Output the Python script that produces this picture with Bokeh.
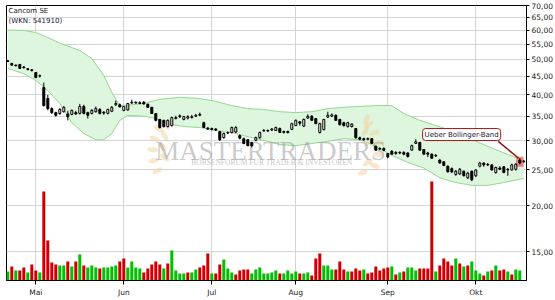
from bokeh.plotting import figure
from bokeh.models import FixedTicker, CustomJSTickFormatter, Range1d, Label, ColumnDataSource, LinearScale
from bokeh.core.properties import value
from bokeh.embed import file_html
from bokeh.resources import INLINE
import math

title = "Cancom SE"
subtitle = "(WKN: 541910)"
annotation = "Ueber Bollinger-Band"
signal_idx = 128

month_ticks = [7, 29, 51, 72, 95, 117]
month_labels = ["Mai", "Jun", "Jul", "Aug", "Sep", "Okt"]
price_ticks = [15, 20, 25, 30, 35, 40, 45, 50, 55, 60, 65, 70]

opens = [49.5, 48.7, 48.2, 48.4, 47.6, 47.1, 46.8, 46.0, 45.1, 41.9,
         39.1, 36.7, 35.8, 35.6, 36.0, 35.5, 35.4, 35.8, 35.6, 37.2,
         35.8, 35.6, 36.0, 36.5, 35.9, 35.6, 36.1, 37.6, 37.6, 36.3,
         36.4, 38.0, 38.0, 38.1, 38.2, 37.7, 37.0, 35.6, 34.3, 34.1,
         32.8, 33.0, 34.5, 34.9, 34.3, 34.6, 34.7, 35.0, 35.2, 33.6,
         32.5, 32.4, 32.3, 31.8, 30.6, 31.5, 31.6, 31.7, 31.0, 30.4,
         30.2, 29.7, 30.1, 30.6, 31.9, 32.0, 32.1, 32.0, 32.4, 31.8,
         31.8, 32.2, 33.0, 33.8, 32.9, 34.6, 35.0, 34.5, 31.6, 32.2,
         34.8, 35.0, 35.2, 34.3, 33.6, 32.8, 32.8, 32.4, 30.6, 30.4,
         30.3, 30.4, 29.0, 28.5, 28.6, 27.7, 28.1, 27.7, 27.9, 27.9,
         27.8, 28.3, 29.5, 29.7, 28.4, 27.8, 27.6, 27.3, 26.6, 26.3,
         25.6, 25.2, 24.3, 24.4, 24.8, 23.8, 24.8, 24.1, 25.6, 26.1,
         25.9, 25.8, 24.6, 25.3, 25.5, 25.1, 25.0, 25.1, 26.6, 26.3]
highs = [49.8, 48.9, 48.3, 48.5, 47.9, 47.3, 46.9, 46.2, 45.4, 43.2,
         40.0, 37.0, 36.0, 36.8, 37.3, 36.2, 36.5, 36.2, 37.8, 37.6,
         36.0, 36.6, 37.2, 36.8, 36.1, 36.7, 37.3, 38.6, 37.9, 37.3,
         38.0, 38.8, 38.4, 38.4, 38.5, 37.9, 37.1, 35.7, 34.4, 34.2,
         34.3, 34.9, 35.1, 35.4, 35.1, 35.2, 35.3, 35.5, 35.8, 33.8,
         32.7, 32.6, 32.5, 31.9, 31.6, 31.8, 32.8, 32.9, 31.2, 30.6,
         30.3, 29.8, 30.8, 31.8, 32.3, 32.2, 32.5, 32.8, 32.6, 32.0,
         32.0, 33.6, 34.3, 33.9, 34.5, 35.4, 35.2, 34.6, 33.6, 34.4,
         36.0, 35.6, 35.4, 34.4, 33.8, 33.8, 33.5, 32.5, 30.8, 30.6,
         30.6, 30.5, 29.1, 28.8, 28.8, 27.8, 28.3, 28.1, 28.1, 28.1,
         27.9, 29.3, 30.3, 29.8, 28.5, 28.0, 27.7, 27.6, 26.7, 26.4,
         25.7, 25.4, 25.0, 25.3, 24.9, 24.7, 24.9, 25.1, 26.3, 26.2,
         26.1, 25.9, 25.5, 25.6, 25.6, 25.3, 26.0, 26.1, 26.9, 26.6]
lows = [49.1, 48.0, 47.8, 47.1, 47.2, 46.6, 46.3, 44.4, 44.6, 37.2,
        36.3, 35.5, 34.9, 35.3, 35.8, 34.1, 35.2, 35.3, 35.4, 35.4,
        34.5, 35.4, 35.8, 35.4, 35.3, 35.4, 35.9, 37.3, 37.0, 36.1,
        36.2, 37.9, 37.9, 37.7, 37.6, 36.9, 35.5, 33.9, 32.4, 32.6,
        32.6, 32.8, 34.3, 34.6, 34.1, 34.3, 34.5, 34.8, 35.0, 32.5,
        32.1, 32.0, 31.9, 30.0, 30.4, 31.3, 31.4, 31.5, 30.3, 29.4,
        29.0, 28.8, 29.9, 30.4, 31.8, 31.7, 31.9, 31.9, 31.5, 31.4,
        31.4, 32.1, 32.9, 33.0, 32.7, 34.4, 34.0, 33.3, 31.4, 32.0,
        34.6, 34.8, 34.0, 33.0, 32.8, 32.6, 32.6, 30.4, 30.1, 30.0,
        30.1, 29.4, 28.2, 28.3, 28.1, 26.9, 27.5, 27.5, 27.6, 27.4,
        27.0, 28.2, 29.4, 28.2, 27.5, 27.1, 26.8, 27.1, 26.0, 25.6,
        24.6, 24.5, 24.1, 24.2, 24.0, 23.6, 23.3, 23.9, 25.4, 25.5,
        25.6, 24.9, 24.4, 25.0, 24.5, 24.1, 24.9, 24.9, 25.9, 26.2]
closes = [49.3, 48.2, 48.0, 47.2, 47.4, 46.9, 46.6, 44.6, 45.0, 37.4,
          36.7, 35.8, 35.2, 36.5, 37.0, 34.9, 36.3, 35.5, 37.2, 35.6,
          35.2, 36.3, 36.7, 35.6, 35.7, 36.5, 37.0, 37.9, 37.1, 37.2,
          37.9, 38.2, 38.2, 37.9, 37.8, 37.0, 35.6, 34.1, 32.6, 32.8,
          34.1, 34.7, 34.7, 35.1, 34.9, 34.9, 34.9, 35.2, 35.4, 32.6,
          32.3, 32.2, 32.1, 30.2, 31.4, 31.6, 32.6, 32.6, 30.5, 29.5,
          29.1, 29.1, 30.6, 31.6, 32.0, 31.9, 32.3, 32.6, 31.6, 31.6,
          31.6, 33.4, 34.1, 33.5, 34.3, 35.0, 34.1, 33.4, 33.4, 34.3,
          35.2, 35.3, 34.1, 33.2, 33.0, 33.6, 33.3, 30.6, 30.3, 30.2,
          30.4, 29.5, 28.3, 28.6, 28.3, 27.1, 27.6, 27.9, 27.8, 27.6,
          27.2, 29.1, 29.8, 28.3, 27.6, 27.6, 26.9, 27.4, 26.1, 25.7,
          24.7, 24.7, 24.8, 25.1, 24.1, 24.5, 23.5, 25.0, 26.1, 25.8,
          25.8, 25.0, 25.4, 25.1, 24.6, 25.0, 25.8, 25.9, 26.1, 26.4]

# volume in thousand shares
volume = [45, 70, 50, 50, 65, 40, 80, 50, 40, 445,
          200, 90, 80, 75, 75, 95, 70, 95, 130, 75,
          65, 75, 65, 60, 65, 65, 70, 75, 95, 110,
          65, 95, 65, 60, 40, 60, 80, 95, 80, 60,
          85, 150, 50, 35, 35, 40, 40, 55, 65, 75,
          135, 35, 35, 80, 105, 60, 40, 30, 50, 55,
          55, 35, 55, 65, 35, 35, 40, 50, 35, 35,
          50, 35, 45, 35, 35, 40, 25, 110, 135, 75,
          75, 55, 55, 95, 55, 45, 45, 60, 50, 55,
          35, 40, 70, 50, 60, 65, 70, 30, 40, 45,
          65, 65, 50, 60, 60, 60, 495, 45, 75, 110,
          95, 75, 110, 85, 70, 75, 95, 50, 35, 25,
          45, 50, 75, 50, 55, 45, 30, 55, 50, 0]
# g = rising day (green bar), r = falling day (red bar)
vol_dir = ("grgrrgrrgr" "rrrggrgrgr" "gggrggggrr" "ggggrrrrrg" "rggggrggrr"
           "rgrrgggrrr" "rgggggggrg" "gggrggrrrg" "ggrrrgrrrg" "rrrrrrgrgr"
           "gggrrrrgrr" "rrgrgrgggr" "grgrrgrggg")

band_upper_idx = [0, 4, 7, 10, 13, 16, 18, 21, 24, 26, 28, 31, 34, 38, 43, 48, 52, 56, 60,
                  64, 68, 72, 76, 80, 84, 88, 92, 96, 99, 103, 107, 111, 115, 119, 123, 127, 129]
band_upper = [60.0, 59.9, 59.1, 57.3, 55.3, 53.8, 52.8, 50.2, 45.2, 40.6, 37.4, 37.6, 37.9,
              38.9, 39.4, 39.1, 38.4, 37.4, 36.7, 36.5, 36.0, 35.8, 36.0, 36.7, 37.0, 37.2,
              37.4, 37.4, 35.6, 34.1, 33.0, 32.0, 30.6, 29.3, 28.1, 27.0, 26.6]
band_lower_idx = [0, 4, 7, 10, 13, 16, 19, 22, 24, 26, 28, 30, 34, 37, 40, 44, 48, 52, 56,
                  60, 64, 68, 72, 76, 80, 84, 88, 92, 96, 100, 104, 108, 112, 116, 120, 124, 129]
band_lower = [47.2, 45.7, 43.8, 41.1, 37.9, 33.6, 31.4, 30.2, 30.2, 31.4, 34.1, 35.2, 35.0,
              34.5, 33.4, 32.8, 32.6, 32.0, 31.6, 30.8, 30.1, 29.3, 29.1, 29.5, 29.9, 30.4,
              30.2, 29.0, 27.4, 26.2, 25.3, 23.8, 23.1, 22.7, 22.7, 23.1, 23.7]

FONT = "DejaVu Sans"
n = len(closes)
idx = list(range(n))

p = figure(width=555, height=300, y_axis_type="log", y_axis_location="right",
           x_range=Range1d(-0.325, n - 0.325), y_range=Range1d(12.51, 70),
           output_backend="svg", toolbar_location=None,
           min_border_left=6, min_border_right=29, min_border_top=5, min_border_bottom=20)
p.extra_y_ranges = {"vol": Range1d(0, 1375)}
p.extra_y_scales = {"vol": LinearScale()}
p.background_fill_color = "white"
p.border_fill_color = "white"
p.outline_line_color = "black"
p.outline_line_width = 1

# axes
p.yaxis.ticker = FixedTicker(ticks=price_ticks)
p.yaxis.formatter = CustomJSTickFormatter(code="return tick.toFixed(2).replace('.', ',');")
p.xaxis.ticker = FixedTicker(ticks=month_ticks)
p.xaxis.major_label_overrides = {t: l for t, l in zip(month_ticks, month_labels)}
for ax in (p.xaxis, p.yaxis):
    ax.axis_line_color = "black"
    ax.axis_line_width = 1
    ax.major_tick_line_color = "black"
    ax.major_tick_in = 0
    ax.minor_tick_line_color = None
    ax.major_label_text_font = FONT
    ax.major_label_text_font_size = "7.5px"
    ax.major_label_text_color = "#222222"
p.yaxis.major_tick_out = 3
p.yaxis.major_label_standoff = 2
p.xaxis.major_tick_out = 4
p.xaxis.major_label_standoff = 3

p.xgrid.ticker = FixedTicker(ticks=month_ticks)
p.ygrid.ticker = FixedTicker(ticks=price_ticks[:-1])
for g in (p.xgrid, p.ygrid):
    g.grid_line_color = "#d4d4d4"
    g.grid_line_width = 1

# Bollinger band
px = band_upper_idx + band_lower_idx[::-1]
py = band_upper + band_lower[::-1]
p.patch(px, py, fill_color="#def5de", line_color=None)
p.line(band_upper_idx, band_upper, line_color="#8fd98f", line_width=1)
p.line(band_lower_idx, band_lower, line_color="#8fd98f", line_width=1)

# watermark: laurel sprigs + text (decoration, positioned around the text anchor)
wm_x, wm_y = 65.7, 28.2
def leaf_pos(dx_px, dy_px):
    return wm_x + dx_px / 4.0, wm_y * math.exp(-dy_px / 159.6)
leaves = [(-112, -22, 60), (-116, -12, 70), (-118, -1, 85), (-117, 10, 100), (-113, 20, 115),
          (-104, -26, 20), (-106, -15, 30), (-108, -4, 40), (-106, 7, 55),
          (98, -26, 120), (104, -18, 110), (108, -8, 95), (108, 4, 80), (104, 15, 65),
          (96, -31, 160), (95, -20, 150), (98, -9, 140), (97, 12, 120), (92, 22, 110)]
lx, ly, la = [], [], []
for dx, dy, ang in leaves:
    x_, y_ = leaf_pos(dx, dy)
    lx.append(x_); ly.append(y_); la.append(math.radians(ang))
p.ellipse(x=lx, y=ly, width=5, height=11, angle=la, width_units="screen",
          height_units="screen", fill_color="#f2d3a0", fill_alpha=0.55, line_color=None)
p.text(x=[wm_x], y=[wm_y], text=["MASTERTRADERS"], text_font=value("Liberation Serif"),
       text_font_size="27px", text_color="#8a8a8a", text_alpha=0.45,
       text_align="center", text_baseline="alphabetic")
p.text(x=[wm_x + 0.3], y=[wm_y * math.exp(-12 / 159.6)],
       text=["BÖRSENFORUM FÜR TRADER & INVESTOREN"],
       text_font=value("Liberation Serif"), text_font_size="7.5px", text_color="#8a8a8a",
       text_alpha=0.5, text_align="center", text_baseline="alphabetic")

# volume
vsrc = ColumnDataSource(dict(x=idx, top=volume,
                             color=["#00c000" if c == "g" else "#cc0000" for c in vol_dir[:n]]))
p.vbar(x="x", width=0.75, top="top", bottom=0, source=vsrc, y_range_name="vol",
       fill_color="color", line_color=None)

# highlight signal candle
hl = signal_idx
p.quad(left=[hl - 0.95], right=[hl + 0.95], bottom=[lows[hl] * 0.985], top=[highs[hl] * 1.01],
       fill_color="#f07070", fill_alpha=0.85, line_color=None)

# candles
csrc = ColumnDataSource(dict(x=idx, o=opens, h=highs, l=lows, c=closes,
                             top=[max(a, b) for a, b in zip(opens, closes)],
                             bot=[min(a, b) for a, b in zip(opens, closes)],
                             fill=["white" if c >= o else "black" for o, c in zip(opens, closes)]))
p.segment(x0="x", y0="l", x1="x", y1="h", source=csrc, line_color="black", line_width=1)
p.vbar(x="x", width=0.5, top="top", bottom="bot", source=csrc, fill_color="fill",
       line_color="black", line_width=1)

# annotation
p.segment(x0=[122.6], y0=[29.9], x1=[hl - 0.3], y1=[highs[hl]], line_color="#8b1010",
          line_width=1.5)
p.add_layout(Label(x=103.7, y=31.2, text=annotation, text_font=FONT, text_font_size="7px",
                   text_color="#1a1a3a", text_baseline="middle", padding=2,
                   background_fill_color="white", border_line_color="#a01818",
                   border_line_width=1, border_radius=3))

# title
p.add_layout(Label(x=0.2, y=69.4, text=title, text_font=FONT, text_font_size="7px",
                   text_color="#111111", text_baseline="top"))
p.add_layout(Label(x=0.2, y=65.2, text=subtitle, text_font=FONT, text_font_size="7px",
                   text_color="#111133", text_baseline="top"))

open("out.html", "w").write(file_html(p, INLINE))
